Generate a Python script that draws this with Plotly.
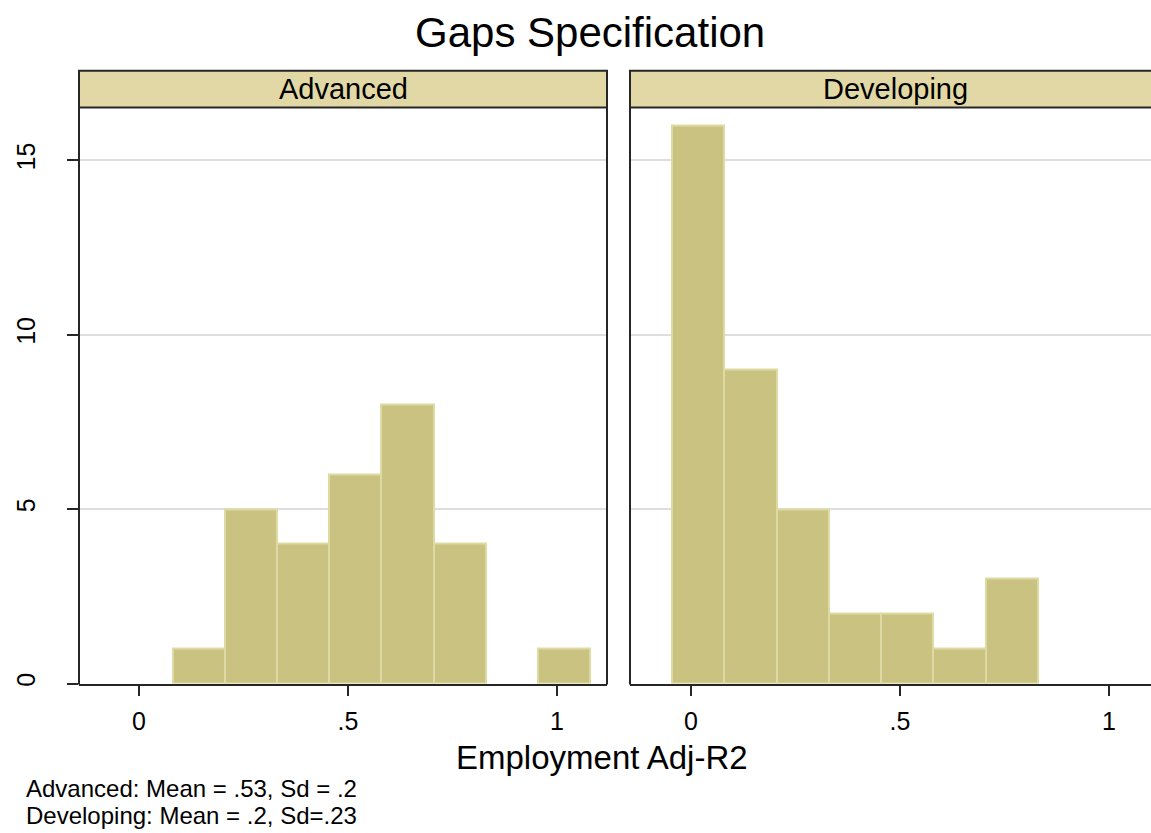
import plotly.graph_objects as go

# Histogram bins (left edges) and counts for each group
bin_width = 0.1248
adv_left = [0.081, 0.206, 0.330, 0.455, 0.580, 0.705, 0.830, 0.955]
adv_count = [1, 5, 4, 6, 8, 4, 0, 1]
dev_left = [-0.045, 0.080, 0.205, 0.330, 0.455, 0.580, 0.705]
dev_count = [16, 9, 5, 2, 2, 1, 3]

panel_names = ["Advanced", "Developing"]
x_tickvals = [0, 0.5, 1]
x_ticktext = ["0", ".5", "1"]
y_tickvals = [0, 5, 10, 15]
y_ticktext = ["0", "5", "10", "15"]

title_text = "Gaps Specification"
x_title = "Employment Adj-R2"
notes = ["Advanced: Mean = .53, Sd = .2", "Developing: Mean = .2, Sd=.23"]

W, H = 1151, 833
FONT = "Liberation Sans, Arial, sans-serif"
BAR_FILL = "#c9c280"
BAR_EDGE = "#dedaa4"
STRIP_FILL = "#e2d8a5"
AXIS_COL = "#262626"


def px(x):
    return x / W


def py(y):
    return 1 - y / H


def bar_trace(left, count, xa, ya):
    # empty bins get no outline so nothing is drawn for them
    edge_w = [2 if c > 0 else 0 for c in count]
    return go.Bar(x=left, y=count, width=bin_width, offset=0,
                  marker=dict(color=BAR_FILL, line=dict(color=BAR_EDGE, width=edge_w)),
                  xaxis=xa, yaxis=ya, showlegend=False, hoverinfo="x+y")


fig = go.Figure()
fig.add_trace(bar_trace(adv_left, adv_count, "x", "y"))
fig.add_trace(bar_trace(dev_left, dev_count, "x2", "y2"))

plot_top, plot_bottom = 108, 686
left_dom = [79, 607]
right_dom = [630, 1151]

xcommon = dict(tickvals=x_tickvals, ticktext=x_ticktext, showgrid=False, zeroline=False,
               showline=True, linecolor=AXIS_COL, linewidth=2, ticks="outside",
               ticklen=10, tickwidth=2, tickcolor=AXIS_COL,
               tickfont=dict(family=FONT, size=25, color="black"), ticklabelstandoff=4)
ycommon = dict(range=[0, 16.51], showgrid=True, gridcolor="#dedede",
               gridwidth=2, zeroline=False, showline=False,
               domain=[py(plot_bottom), py(plot_top)])

fig.update_layout(
    width=W, height=H, margin=dict(l=0, r=0, t=0, b=0),
    paper_bgcolor="white", plot_bgcolor="white", bargap=0,
    xaxis=dict(domain=[px(left_dom[0]), px(left_dom[1])], range=[-0.1435, 1.1196],
               anchor="y", **xcommon),
    xaxis2=dict(domain=[px(right_dom[0]), px(right_dom[1])], range=[-0.146, 1.1005],
                anchor="y2", **xcommon),
    yaxis=dict(anchor="x", ticks="outside", ticklen=11, tickwidth=2,
               tickcolor=AXIS_COL, tickvals=y_tickvals, ticktext=y_ticktext, tickangle=-90,
               tickfont=dict(family=FONT, size=25, color="black"), ticklabelstandoff=22,
               **ycommon),
    yaxis2=dict(anchor="x2", matches="y", tickvals=y_tickvals, showticklabels=False,
                ticks="", **ycommon),
)

shapes = []
annotations = []

# Vertical panel borders
for xpos in [left_dom[0], left_dom[1], right_dom[0]]:
    shapes.append(dict(type="line", xref="paper", yref="paper",
                       x0=px(xpos), x1=px(xpos), y0=py(plot_bottom + 1), y1=py(plot_top),
                       line=dict(color=AXIS_COL, width=2), layer="above"))

# Panel header strips
strip_spans = [left_dom, [630, 1160]]
strip_centres = [343, 895]
for dom in strip_spans:
    shapes.append(dict(type="rect", xref="paper", yref="paper",
                       x0=px(dom[0]), x1=px(dom[1]), y0=py(108), y1=py(71),
                       fillcolor=STRIP_FILL, line=dict(color=AXIS_COL, width=2), layer="above"))
for cx, name in zip(strip_centres, panel_names):
    annotations.append(dict(text=name, xref="paper", yref="paper", x=px(cx), y=py(89),
                            xanchor="center", yanchor="middle", showarrow=False,
                            font=dict(family=FONT, size=29, color="black")))

annotations.append(dict(text=title_text, xref="paper", yref="paper", x=px(590), y=py(33),
                        xanchor="center", yanchor="middle", showarrow=False,
                        font=dict(family=FONT, size=42, color="black")))
annotations.append(dict(text=x_title, xref="paper", yref="paper", x=px(602), y=py(760),
                        xanchor="center", yanchor="middle", showarrow=False,
                        font=dict(family=FONT, size=33, color="black")))
for i, note in enumerate(notes):
    annotations.append(dict(text=note, xref="paper", yref="paper", x=px(24), y=py(791 + 27 * i),
                            xanchor="left", yanchor="middle", showarrow=False,
                            font=dict(family=FONT, size=24, color="black")))

fig.update_layout(shapes=shapes, annotations=annotations)
fig.write_html("out.html")
